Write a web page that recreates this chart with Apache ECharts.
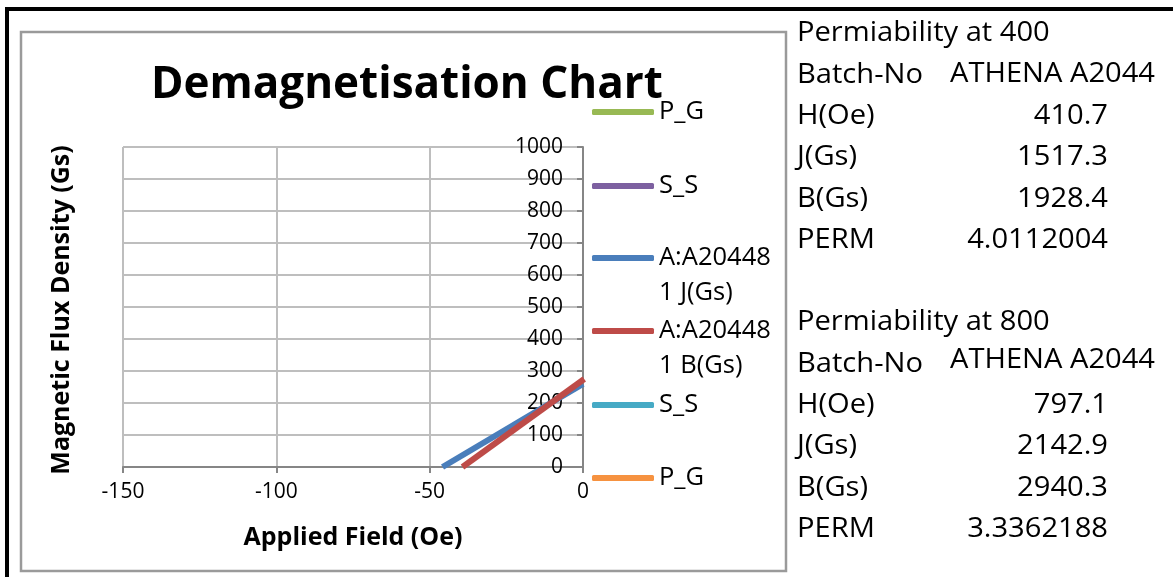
<!DOCTYPE html>
<html>
<head>
<meta charset="utf-8">
<script src="https://cdn.jsdelivr.net/npm/echarts@6/dist/echarts.min.js"></script>
<style>
html,body{margin:0;padding:0;background:#fff;}
#chart{width:1173px;height:577px;}
</style>
</head>
<body>
<div id="chart"></div>
<script>
// ---- data ----
const legendNames = ['P_G', 'S_S', 'A:A20448\n1 J(Gs)', 'A:A20448\n1 B(Gs)', 'S_S ', 'P_G '];
const seriesColors = ['#98B954', '#7D60A0', '#4A7EBB', '#BE4B48', '#46AAC5', '#F69240'];
const pgData1 = [];
const ssData1 = [];
const jCurve = [[-45.8, 0], [0, 260]];
const bCurve = [[-39.3, 0], [0.4, 275]];
const ssData2 = [];
const pgData2 = [];
const xTickValues = [-150, -100, -50, 0];
const yTickValues = [0, 100, 200, 300, 400, 500, 600, 700, 800, 900, 1000];
const tableTitle1 = 'Permiability at 400';
const tableTitle2 = 'Permiability at 800';
const tableLabels = ['Batch-No', 'H(Oe)', 'J(Gs)', 'B(Gs)', 'PERM'];
const perm400 = ['ATHENA A2044', '410.7', '1517.3', '1928.4', '4.0112004'];
const perm800 = ['ATHENA A2044', '797.1', '2142.9', '2940.3', '3.3362188'];

const seriesData = [pgData1, ssData1, jCurve, bCurve, ssData2, pgData2];

// ---- layout ----
const FONT = '"Open Sans", sans-serif';
const legendCenters = [112, 186, 258, 331, 405, 478];
const legendLines = legendNames.map(n => n.split('\n').length);
const LH = 35;

const legends = legendNames.map((name, i) => {
  const two = legendLines[i] > 1;
  return {
    data: [name],
    left: 592,
    top: two ? legendCenters[i] - LH * 1.5 : legendCenters[i] - LH / 2,
    padding: 0,
    orient: 'vertical',
    icon: 'roundRect',
    itemWidth: 62,
    itemHeight: 6,
    selectedMode: false,
    formatter: two ? (n => '\n' + n) : (n => n),
    textStyle: { fontFamily: FONT, fontSize: 25.5, color: '#000', lineHeight: LH }
  };
});

const series = legendNames.map((name, i) => ({
  type: 'line',
  name: name,
  data: seriesData[i],
  color: seriesColors[i],
  showSymbol: false,
  symbol: 'none',
  lineStyle: { width: 6, color: seriesColors[i] },
  clip: true,
  animation: false
}));

// right-hand table as text
const TX = 797, VX = 1108, ATX = 950, TFS = 28, SX = 1.04;
const tableEls = [];
function addText(txt, x, y, align) {
  tableEls.push({
    type: 'text', x: x, y: y, scaleX: SX, scaleY: 1,
    style: { text: txt, fontFamily: FONT, fontSize: TFS, fill: '#000',
             align: align, verticalAlign: 'middle' }
  });
}
function addBlock(title, values, y0, batchLabelDy, athenaDy) {
  const step = 41.4;
  addText(title, TX, y0, 'left');
  tableLabels.forEach((lab, k) => {
    const y = y0 + step * (k + 1);
    addText(lab, TX, y + (k === 0 ? batchLabelDy : 0), 'left');
    if (k === 0) addText(values[k], ATX, y + athenaDy, 'left');
    else addText(values[k], VX, y, 'right');
  });
}
addBlock(tableTitle1, perm400, 33, 1, 0);
addBlock(tableTitle2, perm800, 322, 1, -3);

const chart = echarts.init(document.getElementById('chart'), null, { renderer: 'canvas' });
chart.setOption({
  backgroundColor: '#ffffff',
  animation: false,
  title: {
    text: 'Demagnetisation Chart',
    left: 146, top: 58,
    textStyle: { fontFamily: FONT, fontSize: 44, fontWeight: 'bold', color: '#000' }
  },
  legend: legends,
  grid: { left: 123, right: 1173 - 583, top: 147, bottom: 577 - 467, containLabel: false },
  xAxis: {
    type: 'value', min: xTickValues[0], max: xTickValues[xTickValues.length - 1], interval: 50,
    name: 'Applied Field (Oe)', nameLocation: 'middle', nameGap: 58,
    nameTextStyle: { fontFamily: FONT, fontSize: 25, fontWeight: 'bold', color: '#000' },
    axisLine: { onZero: false, lineStyle: { color: '#868686', width: 2 } },
    axisTick: { show: true, length: 6, lineStyle: { color: '#868686', width: 2 } },
    axisLabel: { fontFamily: FONT, fontSize: 21, color: '#000', margin: 15 },
    splitLine: { show: true, lineStyle: { color: '#BEBEBE', width: 2 } }
  },
  yAxis: {
    type: 'value', min: yTickValues[0], max: yTickValues[yTickValues.length - 1], interval: 100,
    position: 'right',
    axisLine: { show: true, onZero: false, lineStyle: { color: '#868686', width: 2 } },
    axisTick: { show: true, inside: true, length: 6, lineStyle: { color: '#868686', width: 2 } },
    axisLabel: { inside: true, fontFamily: FONT, fontSize: 21, color: '#000', margin: 20,
                 formatter: v => String(v) },
    splitLine: { show: true, lineStyle: { color: '#BEBEBE', width: 2 } }
  },
  series: series,
  graphic: [
    { type: 'rect', shape: { x: 5, y: 7, width: 4, height: 570 }, style: { fill: '#000' }, z: 100 },
    { type: 'rect', shape: { x: 5, y: 7, width: 1168, height: 4 }, style: { fill: '#000' }, z: 100 },
    { type: 'rect', shape: { x: 21, y: 32, width: 765, height: 539 },
      style: { fill: 'none', stroke: '#9A9A9A', lineWidth: 2.5 }, z: -1 },
    { type: 'text', x: 62, y: 310, rotation: Math.PI / 2,
      style: { text: 'Magnetic Flux Density (Gs)', fontFamily: FONT, fontSize: 25, fontWeight: 'bold',
               fill: '#000', align: 'center', verticalAlign: 'middle' } }
  ].concat(tableEls)
});
</script>
</body>
</html>
